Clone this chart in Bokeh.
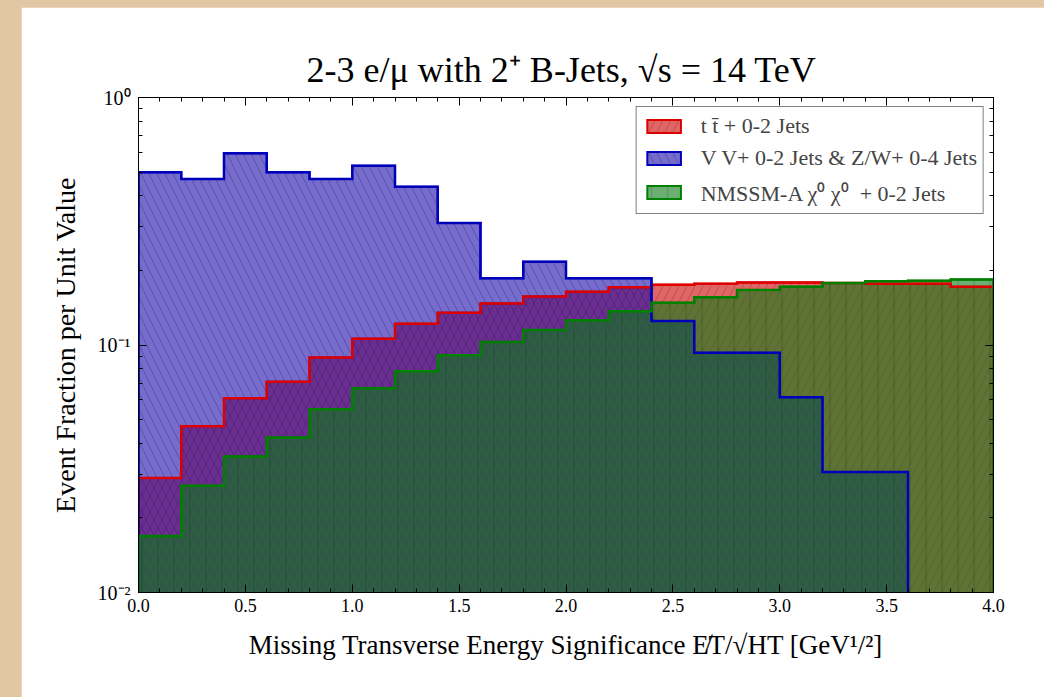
from bokeh.plotting import figure
from bokeh.models import (LinearAxis, LogAxis, SingleIntervalTicker, FixedTicker,
                          CustomJSTickFormatter, PrintfTickFormatter, Legend, LegendItem,
                          Range1d)
from bokeh.layouts import column
from bokeh.embed import file_html
from bokeh.resources import INLINE

# ---------------- data ----------------
bin_edges = [0.0, 0.2, 0.4, 0.6, 0.8, 1.0, 1.2, 1.4, 1.6, 1.8, 2.0,
             2.2, 2.4, 2.6, 2.8, 3.0, 3.2, 3.4, 3.6, 3.8, 4.0]

tt_jets = [0.029, 0.047, 0.061, 0.071, 0.089, 0.106, 0.122, 0.135, 0.147, 0.157,
           0.164, 0.171, 0.175, 0.177, 0.179, 0.179, 0.178, 0.177, 0.177, 0.172]

vv_zw_jets = [0.499, 0.469, 0.596, 0.499, 0.469, 0.530, 0.436, 0.311, 0.186, 0.217,
              0.186, 0.186, 0.125, 0.093, 0.093, 0.0615, 0.0307, 0.0307, 0.0, 0.0]

nmssm_a = [0.0169, 0.027, 0.0354, 0.0423, 0.055, 0.0669, 0.0784, 0.091, 0.1028, 0.115,
           0.126, 0.137, 0.148, 0.156, 0.167, 0.172, 0.178, 0.181, 0.182, 0.184]

series_names = ["t t\u0304 + 0-2 Jets",
                "V V+ 0-2 Jets & Z/W+ 0-4 Jets",
                "NMSSM-A \u03c7\u2070 \u03c7\u2070  + 0-2 Jets"]

y_major_ticks = [0.01, 0.1, 1.0]
y_tick_labels = ["10\u207b\u00b2", "10\u207b\u00b9", "10\u2070"]

title_text = "2-3 e/\u03bc with 2\u207a  B-Jets, \u221as = 14 TeV"
x_label = "Missing Transverse Energy Significance E\u0338T/\u221aHT [GeV\u00b9/\u00b2]"
y_label = "Event Fraction per Unit Value"

SERIF = "Liberation Serif"
hist_floor = 1e-4

# ---------------- figure ----------------
p = figure(frame_width=855, frame_height=495,
           min_border_left=117, min_border_right=51,
           min_border_top=90, min_border_bottom=105,
           x_range=Range1d(0, 4), y_range=Range1d(0.01, 1),
           y_axis_type="log", output_backend="svg", toolbar_location=None,
           x_axis_location=None, y_axis_location=None)
p.margin = (7, 0, 0, 21)
p.border_fill_color = "white"
p.background_fill_color = "white"
p.outline_line_color = "black"
p.outline_line_width = 1
p.xgrid.visible = False
p.ygrid.visible = False

p.title.text = title_text
p.title.align = "center"
p.title.text_font = SERIF
p.title.text_font_size = "36px"
p.title.text_font_style = "normal"
p.title.text_color = "black"
p.title.standoff = 15

styles = [
    dict(vals=tt_jets, fill="#cc0000", line="#dd0000", hatch="/", hcol="#700000"),
    dict(vals=vv_zw_jets, fill="#1a0aa8", line="#0000bb", hatch="\\", hcol="#0a0060"),
    dict(vals=nmssm_a, fill="#0a7a14", line="#008000", hatch="|", hcol="#003008"),
]


def step_outline(vals):
    n = max(i for i, v in enumerate(vals) if v > 0) + 1
    xs = [bin_edges[0]]
    ys = [hist_floor]
    for i in range(n):
        xs += [bin_edges[i], bin_edges[i + 1]]
        ys += [vals[i], vals[i]]
    xs.append(bin_edges[n]); ys.append(hist_floor)
    return xs, ys


items = []
for s, name in zip(styles, series_names):
    xs, ys = step_outline(s["vals"])
    r = p.patch(xs, ys, fill_color=s["fill"], fill_alpha=0.6,
                line_color=s["line"], line_width=2, line_join="miter",
                hatch_pattern=s["hatch"], hatch_color=s["hcol"], hatch_alpha=0.25,
                hatch_scale=16, hatch_weight=1)
    items.append(LegendItem(label=name, renderers=[r]))

# outlines on top
for s in styles:
    xs, ys = step_outline(s["vals"])
    p.line(xs, ys, line_color=s["line"], line_width=2.5, line_join="miter")

legend = Legend(items=items, location="top_right", margin=9,
                label_text_font=SERIF, label_text_font_size="22px",
                glyph_width=42, glyph_height=16, label_height=24,
                spacing=6, padding=6, label_standoff=16,
                border_line_color="black", border_line_width=1.5,
                background_fill_color="white", background_fill_alpha=1)
p.add_layout(legend, "center")


# axes
def style_axis(ax):
    ax.axis_line_color = "black"
    ax.major_tick_line_color = "black"
    ax.minor_tick_line_color = "black"
    ax.major_tick_in = 8
    ax.major_tick_out = 0
    ax.minor_tick_in = 4
    ax.minor_tick_out = 0
    ax.major_label_text_font = SERIF
    ax.major_label_text_font_size = "18px"
    ax.major_label_text_color = "black"
    ax.axis_label_text_font = SERIF
    ax.axis_label_text_font_style = "normal"
    ax.axis_label_text_color = "black"


blank_fmt = CustomJSTickFormatter(code="return '';")
x_fmt = PrintfTickFormatter(format="%.1f")
y_fmt = CustomJSTickFormatter(args=dict(majors=y_major_ticks, labs=y_tick_labels), code="""
    for (let i = 0; i < majors.length; i++) {
        if (Math.abs(Math.log10(tick) - Math.log10(majors[i])) < 1e-6) return labs[i];
    }
    return "";
""")

x_ticker = SingleIntervalTicker(interval=0.5, num_minor_ticks=5)
y_minor = [m * t for t in y_major_ticks[:-1] for m in range(2, 10)]
y_ticker = FixedTicker(ticks=y_major_ticks, minor_ticks=y_minor)

xb = LinearAxis(ticker=x_ticker, formatter=x_fmt, axis_label=x_label)
style_axis(xb)
xb.axis_label_text_font_size = "27px"
xb.major_label_standoff = 6
xb.axis_label_standoff = 15
p.add_layout(xb, "below")

xt = LinearAxis(ticker=x_ticker, formatter=blank_fmt)
style_axis(xt)
xt.major_label_standoff = 0
p.add_layout(xt, "above")

yl = LogAxis(ticker=y_ticker, formatter=y_fmt, axis_label=y_label)
style_axis(yl)
yl.major_label_text_font_size = "20px"
yl.axis_label_text_font_size = "28px"
yl.major_label_standoff = 8
yl.axis_label_standoff = 14
p.add_layout(yl, "left")

yr = LogAxis(ticker=y_ticker, formatter=blank_fmt)
style_axis(yr)
p.add_layout(yr, "right")

root = column(p, width=1044, height=697,
              styles={"background-color": "#e2c7a5"})

open("out.html", "w").write(file_html(root, INLINE))
